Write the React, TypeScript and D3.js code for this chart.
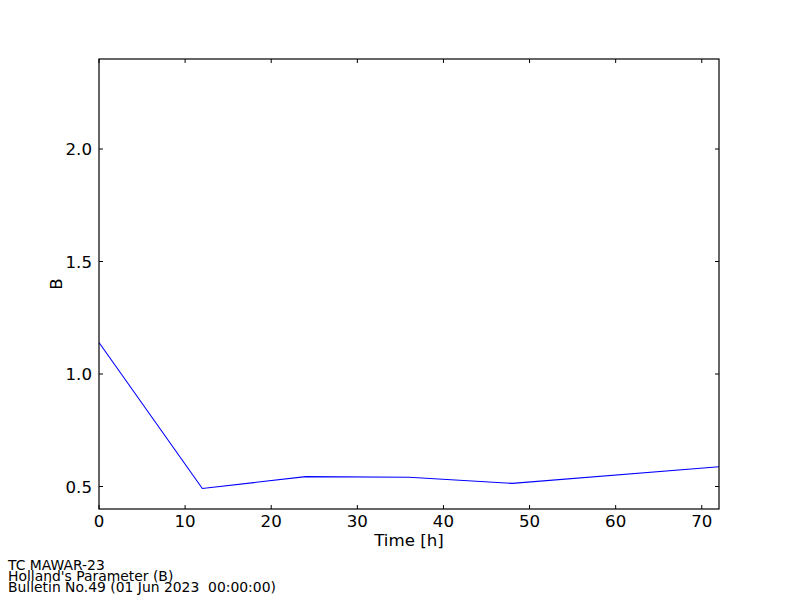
import React from "react";
import * as d3 from "d3";

const hours = [0, 12, 24, 36, 48, 72];
const bValues = [1.14, 0.491, 0.544, 0.541, 0.514, 0.588];
const xTicks = [0, 10, 20, 30, 40, 50, 60, 70];
const yTicks = [0.5, 1.0, 1.5, 2.0];
const footerLines = [
  "TC MAWAR-23",
  "Holland's Parameter (B)",
  "Bulletin No.49 (01 Jun 2023\u00a0\u00a000:00:00)",
];

export default function App() {
  const W = 800, H = 600;
  const left = 99, right = 719, top = 59, bottom = 509;
  const x = d3.scaleLinear().domain([0, 72]).range([left, right]);
  const y = d3.scaleLinear().domain([0.4, 2.4]).range([bottom, top]);
  const line = d3.line<number>().x((_, i) => x(hours[i])).y((d) => y(d));
  const font = "'DejaVu Sans', sans-serif";
  const tl = 4;
  return (
    <svg width={W} height={H} style={{ position: "absolute", left: 0, top: 0, background: "#fff" }} fontFamily={font}>
      <rect x={0} y={0} width={W} height={H} fill="#fff" />
      <path d={line(bValues) || ""} fill="none" stroke="#0000ff" strokeWidth={1.1} />
      {xTicks.map((t) => (
        <g key={"x" + t}>
          <line x1={x(t)} x2={x(t)} y1={bottom} y2={bottom - tl} stroke="#000" />
          <line x1={x(t)} x2={x(t)} y1={top} y2={top + tl} stroke="#000" />
          <text x={x(t)} y={527} textAnchor="middle" fontSize={16.67}>{t}</text>
        </g>
      ))}
      {yTicks.map((t) => (
        <g key={"y" + t}>
          <line x1={left} x2={left + tl} y1={y(t)} y2={y(t)} stroke="#000" />
          <line x1={right} x2={right - tl} y1={y(t)} y2={y(t)} stroke="#000" />
          <text x={92} y={y(t)} dy="0.36em" textAnchor="end" fontSize={16.67}>{t.toFixed(1)}</text>
        </g>
      ))}
      <rect x={left} y={top} width={right - left} height={bottom - top} fill="none" stroke="#000" strokeWidth={1.2} />
      <text x={(left + right) / 2} y={546} textAnchor="middle" fontSize={16.67}>Time [h]</text>
      <text transform={`translate(62,${(top + bottom) / 2}) rotate(-90)`} textAnchor="middle" fontSize={16.67}>B</text>
      {footerLines.map((s, i) => (
        <text key={i} x={8} y={569.5 + i * 11.2} fontSize={13.9}>{s}</text>
      ))}
    </svg>
  );
}
